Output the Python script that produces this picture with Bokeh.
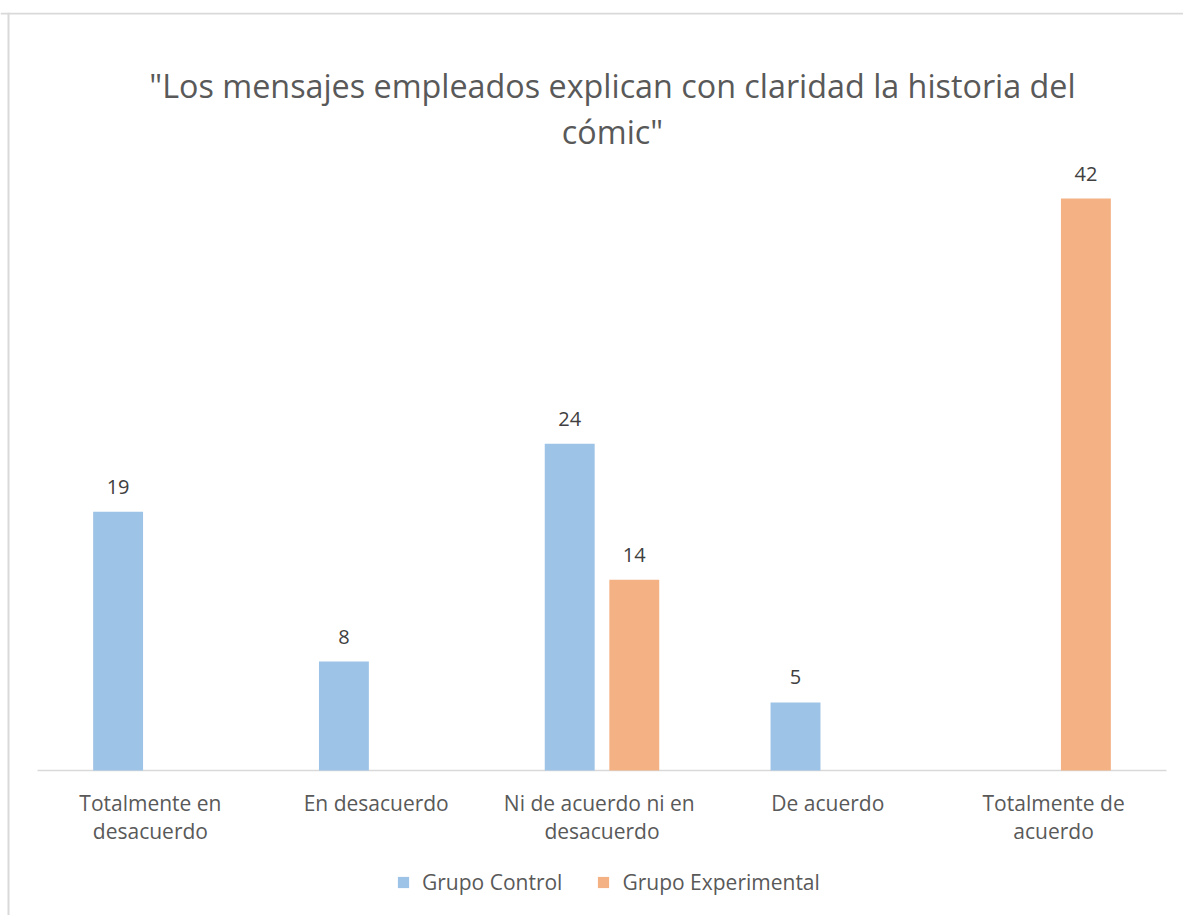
import numpy as np
from bokeh.plotting import figure
from bokeh.models import ColumnDataSource, Range1d, Legend, LegendItem, Span
from bokeh.core.properties import value
from bokeh.embed import file_html
from bokeh.resources import INLINE

# ---------------- data ----------------
categories = ["Totalmente en desacuerdo", "En desacuerdo", "Ni de acuerdo ni  en desacuerdo",
              "De acuerdo", "Totalmente de acuerdo"]
category_line1 = ["Totalmente en", "En desacuerdo", "Ni de acuerdo ni  en", "De acuerdo", "Totalmente de"]
category_line2 = ["desacuerdo", "", "desacuerdo", "", "acuerdo"]
grupo_control = [19, 8, 24, 5, 0]
grupo_experimental = [0, 0, 14, 0, 42]
series_names = ["Grupo Control", "Grupo Experimental"]
title_line1 = "\"Los mensajes empleados explican con claridad la historia del"
title_line2 = "cómic\""

# ---------------- layout (pixels) ----------------
FONT = "Open Sans"
BLUE = "#9DC3E6"
ORANGE = "#F4B183"
GREY = "#D9D9D9"
W, H = 1183, 915
TOP_PAD = 12
PX_CAT = 225.8              # px per category
CAT_LEFT = 37               # canvas x where first category starts
ZERO_Y = 770                # canvas y of value 0
PX_VAL = 572 / 42           # px per unit value

x_start = -CAT_LEFT / PX_CAT
x_end = (W - CAT_LEFT) / PX_CAT
y_end = (ZERO_Y - TOP_PAD) / PX_VAL
y_start = -(H - ZERO_Y) / PX_VAL

def ydata(canvas_y):
    return (ZERO_Y - canvas_y) / PX_VAL

def xdata(canvas_x):
    return (canvas_x - CAT_LEFT) / PX_CAT

p = figure(x_range=Range1d(x_start, x_end), y_range=Range1d(y_start, y_end),
           width=W, height=H, output_backend="svg", toolbar_location=None,
           x_axis_location=None, y_axis_location=None,
           min_border_left=0, min_border_right=0, min_border_top=TOP_PAD, min_border_bottom=0)
p.xgrid.grid_line_color = None
p.ygrid.grid_line_color = None
p.outline_line_color = None

# chart border (top and left, as in the cropped original)
p.add_layout(Span(location=xdata(8), dimension="height", line_color=GREY, line_width=2))
p.add_layout(Span(location=ydata(13), dimension="width", line_color=GREY, line_width=2))

xc = np.arange(len(categories)) + 0.5

# category axis line
p.segment(x0=[0], y0=[0], x1=[len(categories)], y1=[0], line_color=GREY, line_width=1.6)

off, bw = 0.143, 0.221
cx = [x - off for x, v in zip(xc, grupo_control) if v > 0]
cv = [v for v in grupo_control if v > 0]
ex = [x + off for x, v in zip(xc, grupo_experimental) if v > 0]
ev = [v for v in grupo_experimental if v > 0]
src_c = ColumnDataSource(dict(x=cx, val=cv, lbl=[str(v) for v in cv]))
src_e = ColumnDataSource(dict(x=ex, val=ev, lbl=[str(v) for v in ev]))

r1 = p.vbar(x="x", top="val", bottom=0, width=bw, source=src_c, fill_color=BLUE, line_color=None)
r2 = p.vbar(x="x", top="val", bottom=0, width=bw, source=src_e, fill_color=ORANGE, line_color=None)

for src in (src_c, src_e):
    p.text(x="x", y="val", text="lbl", source=src, text_align="center",
           text_baseline="middle", y_offset=-25,
           text_font=value(FONT), text_font_size="20px", text_color="#404040")

# category labels
p.text(x=xc, y=[0] * len(xc), text=category_line1, text_align="center", text_baseline="middle",
       y_offset=32, text_font=value(FONT), text_font_size="21px", text_color="#595959")
p.text(x=xc, y=[0] * len(xc), text=category_line2, text_align="center", text_baseline="middle",
       y_offset=60, text_font=value(FONT), text_font_size="21px", text_color="#595959")

# title
tx = xdata(612)
p.text(x=[tx, tx], y=[ydata(84), ydata(130)], text=[title_line1, title_line2],
       text_align="center", text_baseline="middle",
       text_font=value(FONT), text_font_size="32.3px", text_color="#595959")

legend = Legend(items=[LegendItem(label=series_names[0], renderers=[r1]),
                       LegendItem(label=series_names[1], renderers=[r2])],
                orientation="horizontal", location=(396, 19),
                label_text_font=FONT, label_text_font_size="21px", label_text_color="#595959",
                glyph_width=14, glyph_height=14, label_standoff=12, spacing=34,
                border_line_color=None, background_fill_alpha=0, margin=0, padding=0)
p.add_layout(legend)

open("out.html", "w").write(file_html(p, INLINE))
